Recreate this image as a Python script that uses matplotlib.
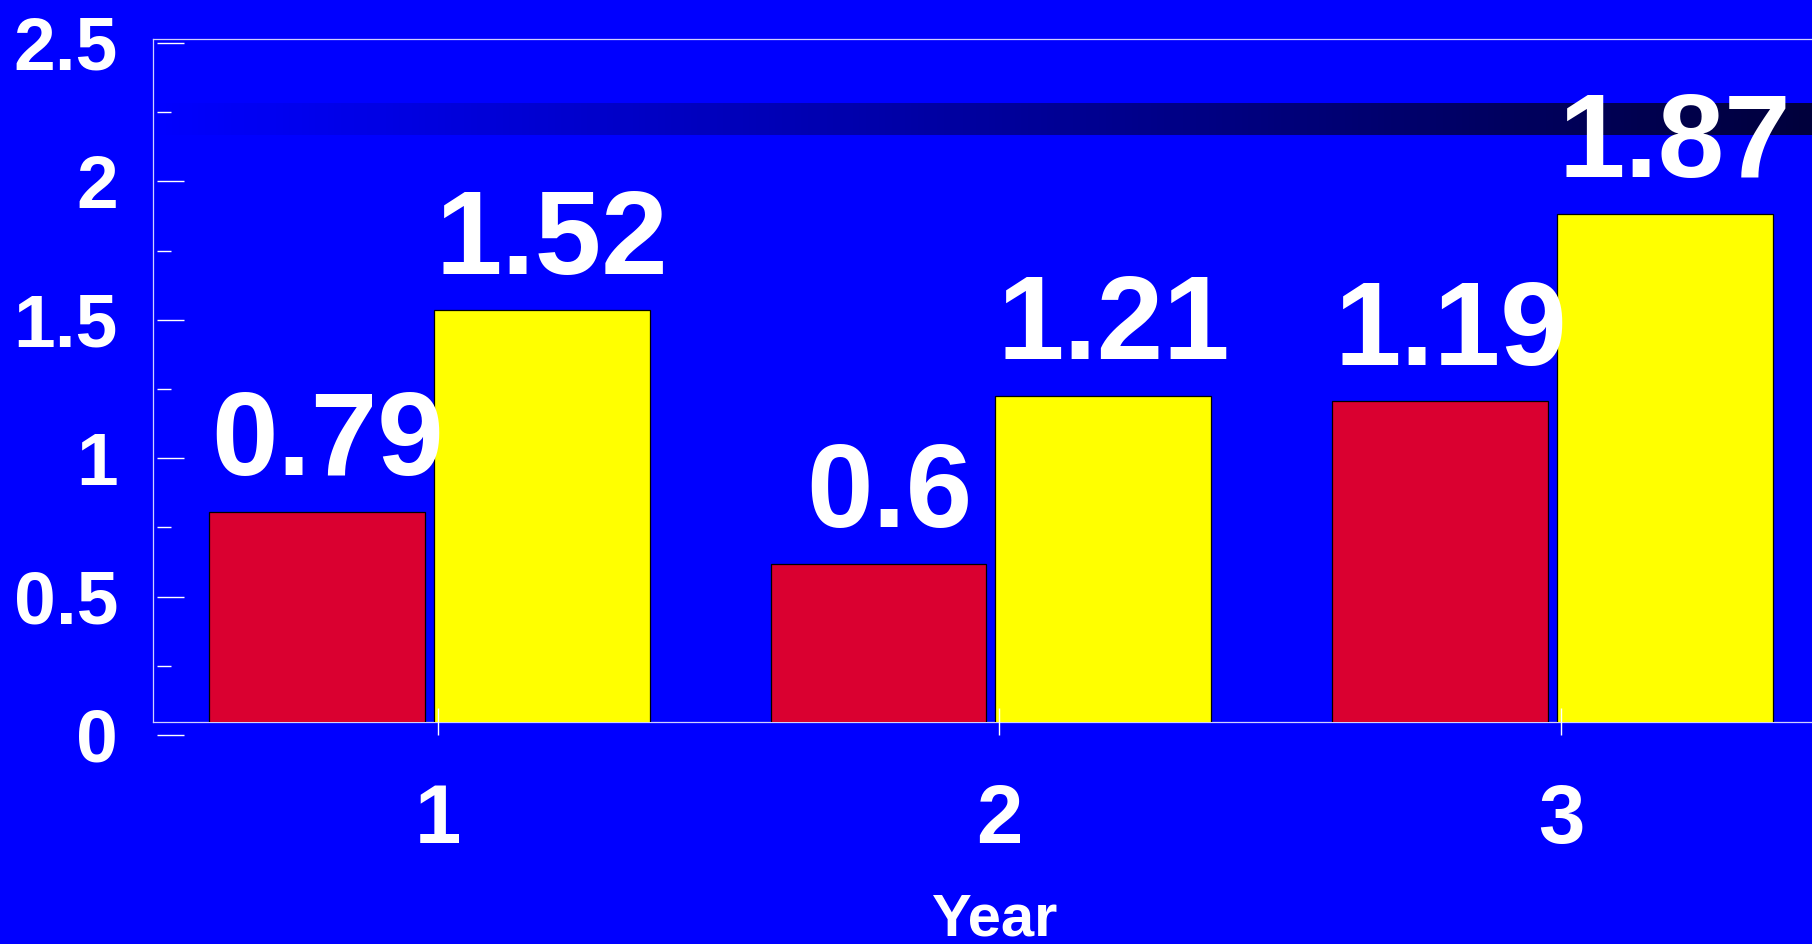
import numpy as np
import matplotlib
matplotlib.use("Agg")
import matplotlib.pyplot as plt
from matplotlib.colors import LinearSegmentedColormap
from matplotlib.ticker import MultipleLocator

plt.rcParams['font.family'] = ['Liberation Sans', 'DejaVu Sans']
plt.rcParams['font.weight'] = 'bold'

# data
years = [1, 2, 3]
series_a = [0.79, 0.6, 1.19]   # red bars
series_b = [1.52, 1.21, 1.87]  # yellow bars
y_ticks = [0, 0.5, 1, 1.5, 2, 2.5]
y_tick_labels = ["0", "0.5", "1", "1.5", "2", "2.5"]

BLUE = "#0000FF"
RED = "#DA0030"
YELLOW = "#FFFF00"
SPINE = "#D0D0FF"

W, H = 1812, 944
fig = plt.figure(figsize=(W / 100, H / 100), dpi=100, facecolor=BLUE)

# main axes: bars + frame
ax = fig.add_axes([153 / W, 1 - 722 / H, (W - 153) / W, (722 - 39) / H])
ax.set_facecolor(BLUE)
ax.set_xlim(0.5077, 3.4623)
ax.set_ylim(0.027, 2.505)

x = np.array(years, dtype=float)
width = 0.384
ax.bar(x - 0.2, series_a, width, color=RED, edgecolor="black", linewidth=0.9, zorder=3)
ax.bar(x + 0.2, series_b, width, color=YELLOW, edgecolor="black", linewidth=0.9, zorder=3)

# dark shaded band near the top
band = LinearSegmentedColormap.from_list("band", [BLUE, "#00003C"])
ax.imshow(np.linspace(0, 1, 256).reshape(1, -1), cmap=band, aspect="auto",
          extent=[0, 1, (722 - 135) / 683, (722 - 103) / 683],
          transform=ax.transAxes, zorder=1)

for xs, vals in ((x - 0.2, series_a), (x + 0.2, series_b)):
    for xi, v in zip(xs, vals):
        ax.annotate(f"{v:g}", (xi, v), xytext=(7.5, 26.5), textcoords="offset points",
                    ha="center", va="baseline", color="white", fontsize=86,
                    fontweight="bold", zorder=4)

ax.spines["right"].set_visible(False)
for side in ("left", "top", "bottom"):
    ax.spines[side].set_color(SPINE)
    ax.spines[side].set_linewidth(0.9)
ax.set_xticks([])
ax.set_yticks([])

# tick axes (slightly offset from the frame, as in the original)
ax2 = fig.add_axes([157 / W, 1 - 735 / H, (W - 157) / W, (735 - 43) / H])
ax2.patch.set_visible(False)
for s in ax2.spines.values():
    s.set_visible(False)
ax2.set_xlim(0.4996, 3.447)
ax2.set_ylim(0, 2.5)
ax2.set_xticks(years)
ax2.set_xticklabels([str(y) for y in years])
ax2.set_yticks(y_ticks)
ax2.set_yticklabels(y_tick_labels)
ax2.yaxis.set_minor_locator(MultipleLocator(0.25))
ax2.tick_params(axis="both", which="major", direction="in", length=19.4,
                width=1.0, color="white", labelcolor="white")
ax2.tick_params(axis="y", which="minor", direction="in", length=10,
                width=1.0, color="white")
ax2.tick_params(axis="y", which="major", pad=28, labelsize=54)
ax2.tick_params(axis="x", which="major", pad=34, labelsize=60)

fig.text(994.5 / W, 1 - 936 / H, "Year", ha="center", va="baseline",
         color="white", fontsize=43, fontweight="bold")

fig.savefig("out.png", dpi=100, facecolor=BLUE)
